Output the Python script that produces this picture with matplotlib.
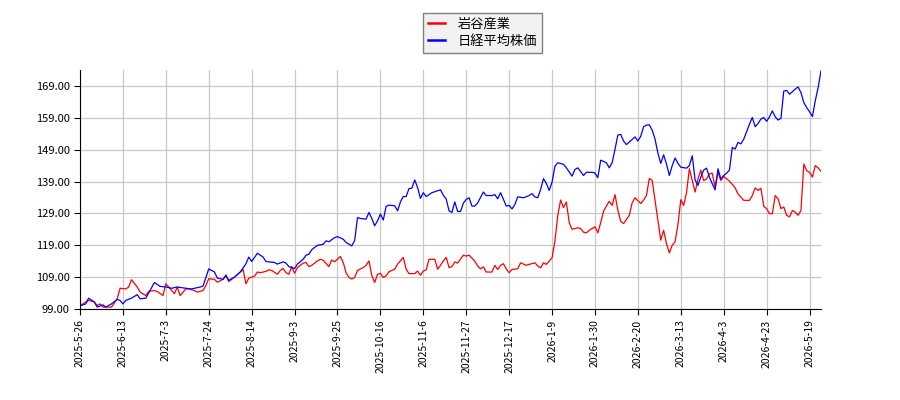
import matplotlib
matplotlib.use("Agg")
import matplotlib.pyplot as plt
from matplotlib.ticker import FormatStrFormatter

plt.rcParams['font.family'] = ['Noto Sans CJK JP', 'DejaVu Sans']

# trading-day index -> normalised price (start = 100)
nikkei_idx = [0, 2, 3, 5, 6, 8, 9, 11, 13, 14, 15, 16, 18, 20, 21, 23, 26, 28, 30, 32,
              34, 37, 39, 42, 43, 45, 47, 48, 50, 51, 52, 54, 56, 58, 59, 60, 62, 64, 65, 68,
              69, 71, 72, 73, 75, 76, 78, 79, 80, 81, 83, 85, 86, 87, 89, 90, 92, 93, 95, 96,
              97, 98, 100, 101, 102, 103, 104, 105, 106, 107, 108, 110, 111, 112, 113, 114, 115, 116, 117, 118,
              119, 120, 121, 123, 124, 126, 127, 128, 129, 130, 131, 132, 133, 134, 135, 136, 137, 138, 139, 141,
              142, 144, 145, 146, 147, 148, 149, 150, 151, 152, 153, 155, 157, 158, 159, 160, 161, 162, 163, 164,
              165, 166, 167, 169, 170, 172, 173, 174, 176, 177, 179, 180, 181, 182, 184, 185, 186, 187, 188, 189,
              190, 191, 193, 194, 195, 196, 197, 198, 199, 200, 201, 202, 203, 204, 205, 206, 207, 208, 209, 210,
              212, 213, 214, 215, 216, 217, 218, 219, 220, 221, 222, 223, 224, 225, 226, 227, 228, 229, 230, 231,
              232, 233, 234, 235, 236, 237, 238, 239, 240, 241, 242, 243, 244, 245, 246, 247, 248, 250, 251, 252,
              253, 254, 255, 256, 257, 258, 259]
nikkei = [100.0, 100.6, 102.4, 101.2, 99.6, 100.3, 99.6, 100.6, 102.0, 101.7, 100.6, 101.7, 102.4, 103.5, 102.2, 102.4, 107.3, 106.1, 105.9, 105.5,
          105.9, 105.5, 105.3, 105.9, 106.2, 111.6, 110.6, 108.7, 108.3, 109.5, 108.0, 109.0, 110.6, 113.2, 115.3, 113.9, 116.5, 115.3, 113.9, 113.6,
          113.1, 113.8, 113.4, 112.3, 111.7, 113.1, 114.6, 115.9, 116.2, 117.6, 119.0, 119.3, 120.4, 120.1, 121.4, 121.7, 120.9, 119.9, 118.8, 120.5,
          127.7, 127.4, 127.2, 129.3, 127.4, 125.1, 126.7, 128.8, 126.9, 131.2, 131.6, 131.4, 129.8, 132.6, 134.3, 134.3, 136.8, 136.9, 139.5, 137.1,
          133.7, 135.5, 134.3, 135.5, 135.8, 136.4, 134.7, 133.5, 129.8, 129.3, 132.6, 129.6, 129.6, 132.2, 133.4, 133.9, 131.3, 131.3, 132.3, 135.7,
          134.6, 134.6, 134.9, 133.6, 135.5, 133.4, 131.3, 131.5, 130.4, 131.8, 134.2, 133.9, 134.6, 135.2, 134.2, 133.9, 136.5, 139.9, 138.4, 136.2,
          138.8, 143.8, 144.9, 144.4, 143.3, 140.7, 142.8, 143.3, 140.9, 141.9, 141.9, 141.7, 140.2, 145.7, 144.9, 143.3, 144.9, 149.1, 153.6, 153.8,
          151.7, 150.6, 152.2, 153.0, 151.7, 153.2, 156.2, 156.7, 156.8, 155.1, 152.3, 147.9, 144.7, 147.4, 144.5, 140.9, 144.0, 146.4, 144.7, 143.5,
          143.2, 144.0, 147.1, 139.5, 137.8, 140.4, 142.6, 143.2, 140.4, 138.3, 136.4, 143.0, 139.8, 140.9, 141.6, 142.6, 149.7, 149.2, 151.3, 150.8,
          152.3, 154.6, 157.0, 159.1, 156.2, 157.2, 158.6, 159.1, 157.9, 159.3, 161.2, 159.3, 158.3, 158.8, 167.4, 167.6, 166.4, 168.0, 168.7, 166.9,
          163.8, 162.2, 160.9, 159.4, 164.3, 168.5, 173.7]

iwatani_idx = [0, 2, 3, 5, 6, 7, 8, 9, 11, 13, 14, 16, 17, 18, 20, 21, 23, 24, 26, 27,
               29, 30, 31, 33, 34, 35, 37, 38, 40, 41, 43, 44, 45, 47, 48, 50, 51, 52, 54, 56,
               57, 58, 59, 61, 62, 63, 65, 66, 67, 69, 70, 71, 72, 73, 74, 75, 76, 78, 79, 80,
               81, 83, 84, 85, 87, 88, 89, 91, 92, 93, 94, 95, 96, 97, 99, 100, 101, 102, 103, 104,
               105, 106, 107, 108, 110, 111, 112, 113, 114, 115, 117, 118, 119, 120, 121, 122, 124, 125, 126, 127,
               128, 129, 130, 131, 132, 134, 135, 136, 138, 139, 140, 141, 142, 144, 145, 146, 147, 148, 149, 150,
               151, 153, 154, 156, 157, 159, 160, 161, 162, 163, 164, 165, 166, 167, 168, 169, 170, 171, 172, 174,
               175, 176, 177, 178, 180, 181, 182, 183, 184, 185, 186, 187, 188, 189, 190, 191, 192, 193, 194, 196,
               197, 198, 199, 200, 201, 202, 203, 204, 205, 206, 207, 208, 209, 210, 211, 212, 213, 214, 215, 216,
               217, 218, 219, 220, 221, 222, 223, 224, 225, 227, 228, 229, 230, 232, 233, 234, 235, 236, 237, 238,
               239, 240, 241, 242, 243, 244, 245, 246, 247, 248, 249, 250, 251, 252, 253, 254, 255, 256, 257, 258,
               259]
iwatani = [100.0, 101.2, 101.7, 101.2, 100.1, 100.6, 99.6, 99.6, 99.6, 102.2, 105.5, 105.3, 105.9, 108.2, 105.9, 104.3, 103.2, 104.5, 104.8, 104.5,
           103.2, 106.9, 105.9, 103.8, 105.9, 103.2, 105.3, 105.3, 104.8, 104.3, 104.8, 106.4, 108.5, 108.3, 107.4, 108.3, 109.7, 107.6, 109.0, 110.6,
           111.4, 106.9, 108.7, 109.3, 110.6, 110.4, 110.8, 111.3, 111.1, 109.9, 111.1, 111.7, 110.4, 109.9, 112.3, 110.2, 112.0, 113.4, 113.6, 112.3,
           112.7, 114.1, 114.6, 114.3, 112.3, 114.4, 113.8, 115.5, 113.6, 110.4, 108.9, 108.4, 108.9, 111.1, 112.0, 112.7, 114.1, 109.5, 107.3, 109.9,
           110.2, 108.9, 109.4, 110.7, 111.5, 113.1, 114.1, 115.2, 111.5, 110.1, 110.1, 110.9, 109.6, 110.9, 111.3, 114.6, 114.6, 111.5, 112.7, 114.1,
           115.2, 112.0, 112.3, 113.8, 113.4, 115.9, 115.6, 115.9, 114.0, 112.5, 111.6, 112.2, 110.6, 110.6, 112.7, 111.4, 112.7, 113.2, 111.6, 110.4,
           111.4, 111.6, 113.5, 112.7, 113.0, 113.5, 112.5, 111.9, 113.5, 113.0, 114.0, 115.1, 120.3, 128.4, 133.2, 130.8, 132.6, 126.1, 124.0, 124.5,
           124.2, 123.1, 122.9, 123.7, 124.8, 122.9, 126.1, 129.7, 131.3, 132.8, 131.5, 134.9, 130.0, 126.5, 125.8, 127.1, 128.4, 132.3, 133.9, 132.1,
           133.2, 134.6, 140.0, 139.3, 133.0, 126.8, 120.6, 123.7, 119.5, 116.6, 119.0, 120.1, 125.5, 133.3, 131.5, 135.5, 143.0, 139.3, 135.7, 139.8,
           142.6, 139.3, 139.8, 141.4, 141.6, 137.2, 141.9, 139.3, 140.6, 139.1, 138.1, 137.0, 135.1, 133.1, 133.1, 133.1, 134.6, 137.0, 136.2, 136.9,
           131.2, 130.5, 128.9, 128.9, 134.6, 133.6, 130.5, 131.0, 128.4, 127.9, 129.9, 129.4, 128.4, 129.9, 144.5, 142.4, 141.9, 140.4, 144.0, 143.3,
           142.2]

tick_pos = list(range(0, 256, 15))
tick_labels = ['2025-5-26', '2025-6-13', '2025-7-3', '2025-7-24', '2025-8-14', '2025-9-3',
               '2025-9-25', '2025-10-16', '2025-11-6', '2025-11-27', '2025-12-17', '2026-1-9',
               '2026-1-30', '2026-2-20', '2026-3-13', '2026-4-3', '2026-4-23', '2026-5-19']
y_ticks = [99, 109, 119, 129, 139, 149, 159, 169]

fig = plt.figure(figsize=(9, 4), dpi=100)
ax = fig.add_axes([0.0889, 0.2275, 0.8233, 0.5975])

ax.plot(iwatani_idx, iwatani, color='#ff0000', linewidth=0.9, label='岩谷産業')
ax.plot(nikkei_idx, nikkei, color='#0000ff', linewidth=0.9, label='日経平均株価')

ax.set_xlim(0, 259)
ax.set_ylim(99, 174)
ax.set_xticks(tick_pos)
ax.set_xticklabels(tick_labels, rotation=90, fontsize=7.5)
ax.set_yticks(y_ticks)
ax.yaxis.set_major_formatter(FormatStrFormatter('%.2f'))
ax.tick_params(axis='y', labelsize=8)
ax.tick_params(length=4, width=0.8)
ax.grid(True, color='#c8c8c8', linewidth=0.9)
ax.set_axisbelow(True)
ax.spines['top'].set_visible(False)
ax.spines['right'].set_visible(False)

leg = fig.legend(loc='upper center', bbox_to_anchor=(0.536, 0.985), fontsize=9.5,
                 fancybox=False, edgecolor='#808080', facecolor='#f2f2f2', framealpha=1,
                 handlelength=1.3, handletextpad=0.9, borderpad=0.4, labelspacing=0.3)
for line in leg.get_lines():
    line.set_linewidth(1.8)

fig.savefig('out.png', dpi=100)
